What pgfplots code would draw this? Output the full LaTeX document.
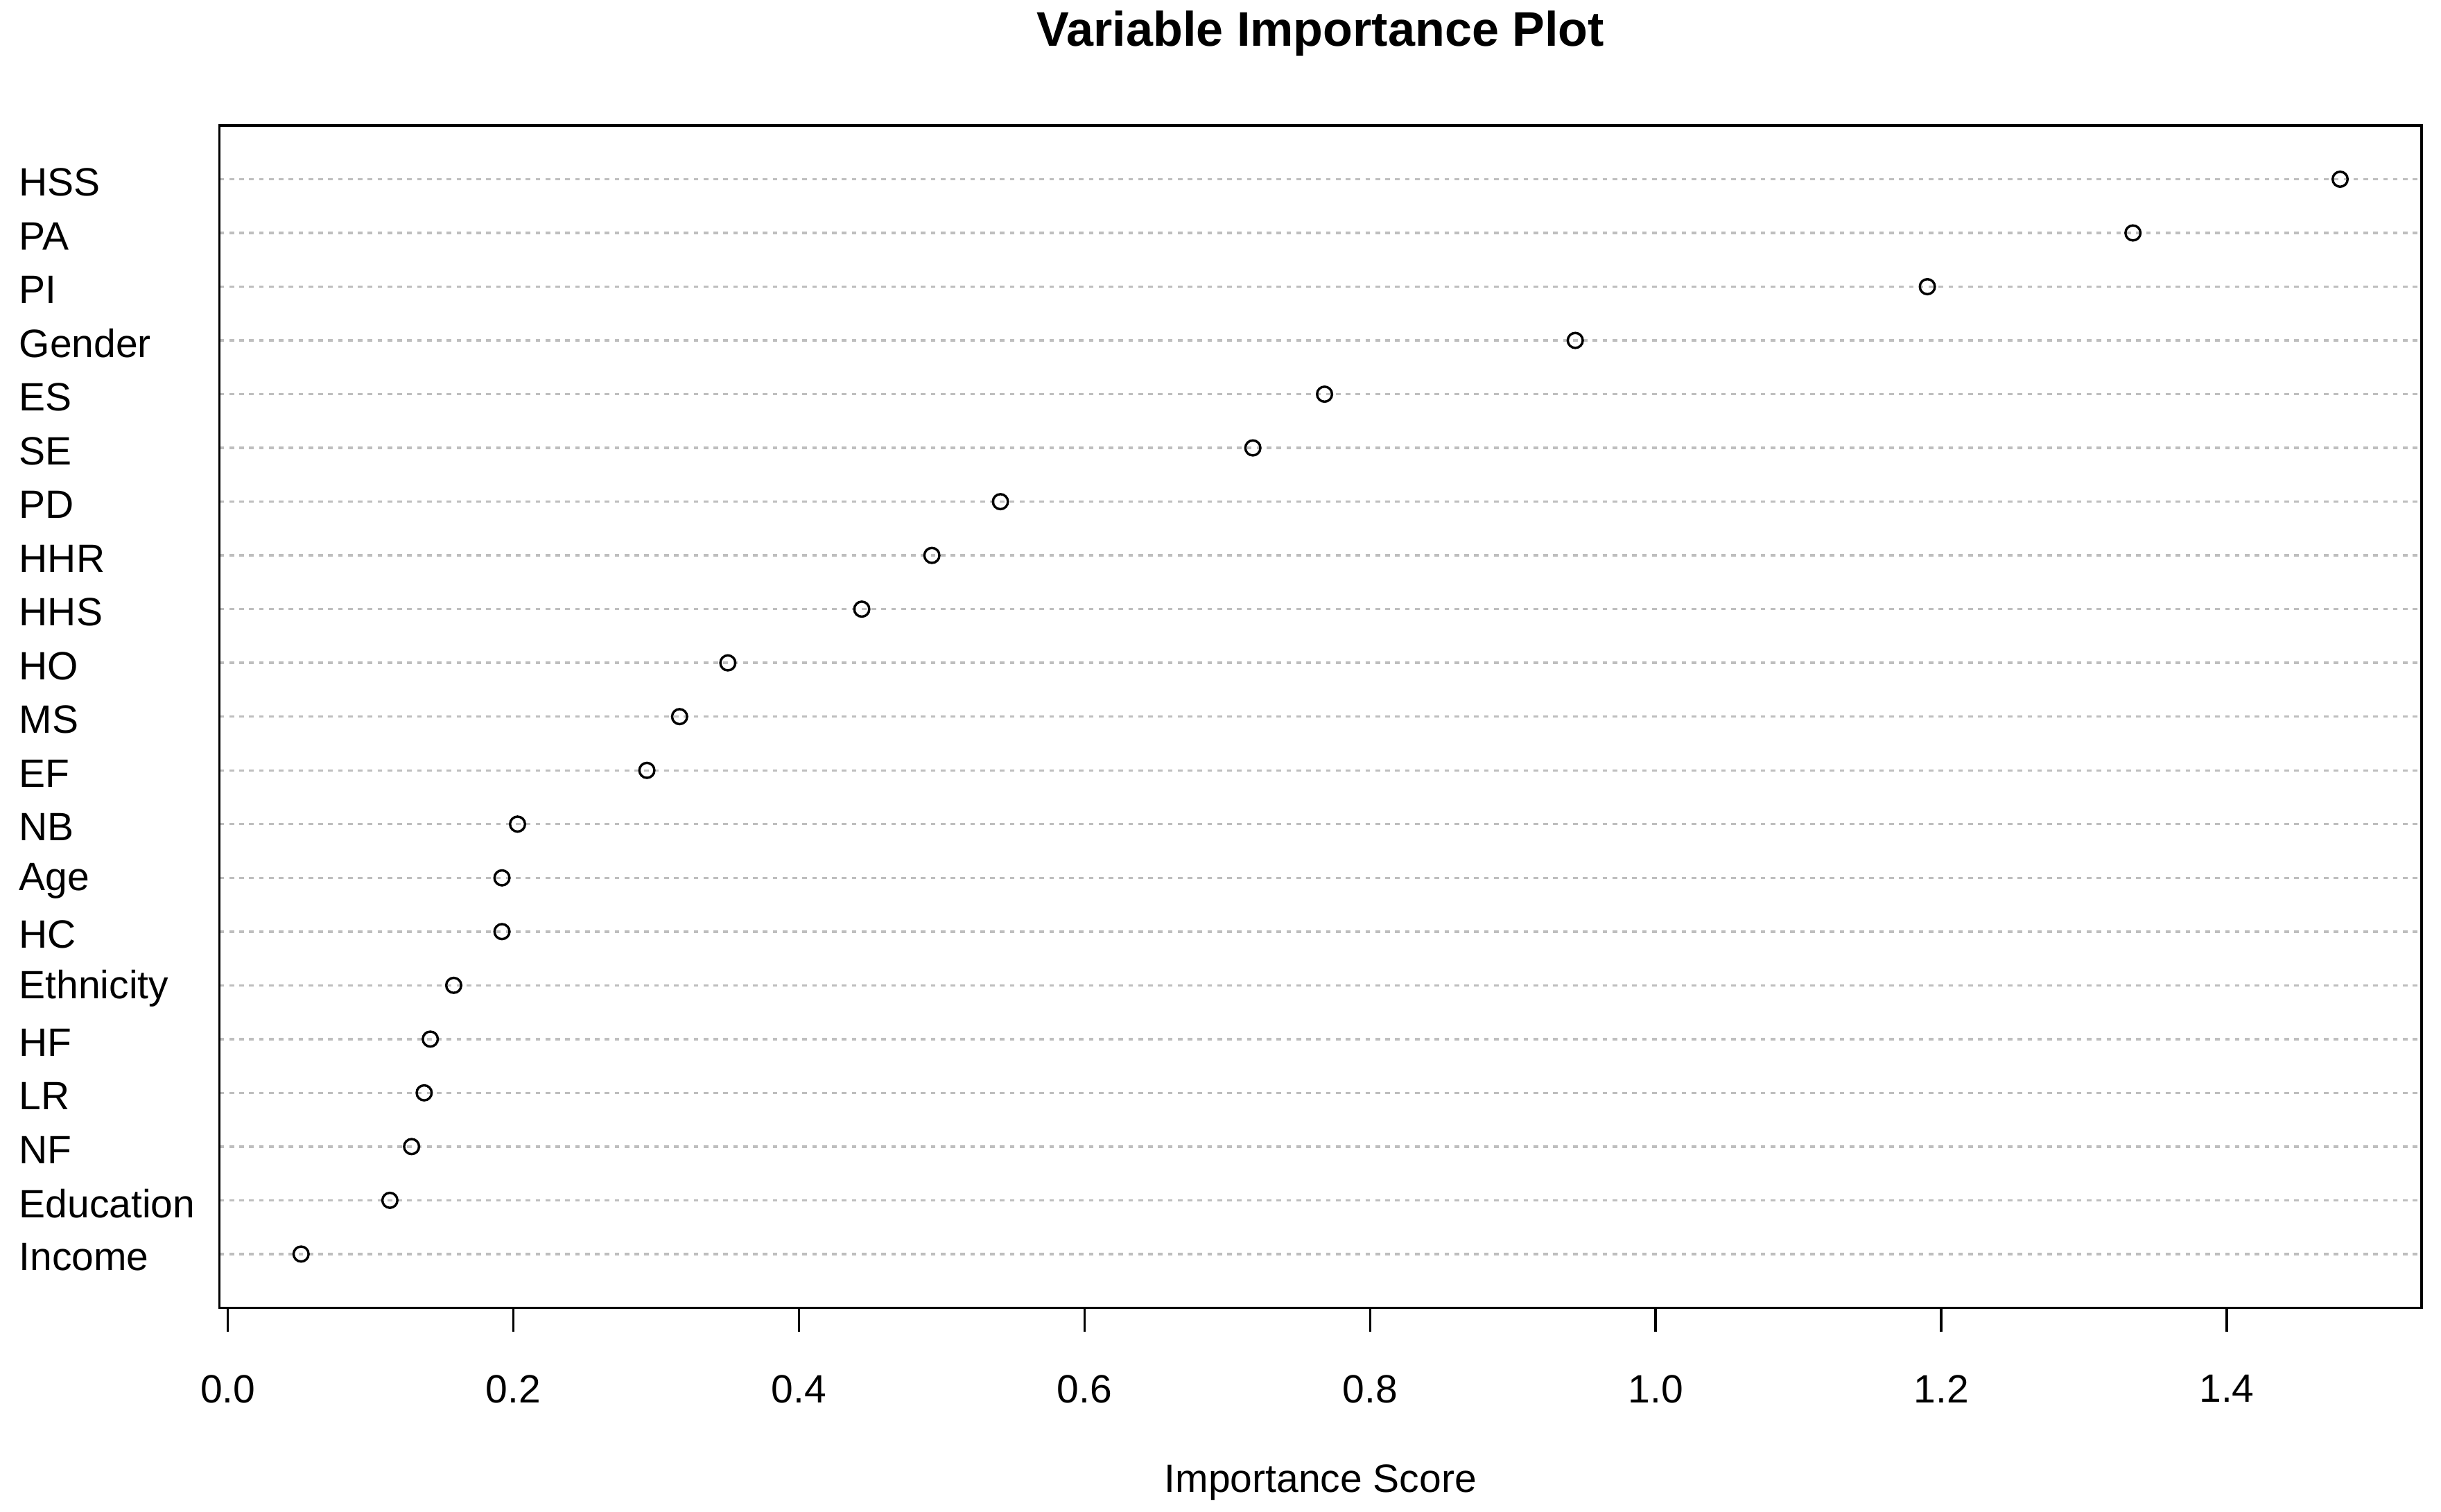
\documentclass[border=0pt]{standalone}
\usepackage{fontspec}
\setmainfont{Liberation Sans}
\usepackage{pgfplots}
\pgfplotsset{compat=1.18}
\definecolor{rgray}{HTML}{BEBEBE}

\begin{document}
\begin{tikzpicture}
\useasboundingbox (-55.56pt,-51.6pt) rectangle (562.15pt,330.95pt);
\begin{axis}[
    at={(0,0)}, anchor=south west,
    scale only axis,
    width=557.25pt, height=299.2pt,
    xmin=-0.0058, xmax=1.5365,
    ymin=0, ymax=22,
    axis line style={line width=0.6pt},
    /pgf/number format/assume math mode=true,
    % x axis: R style ticks below the box
    xtick={0,0.2,0.4,0.6,0.8,1.0,1.2,1.4},
    xticklabel={\pgfmathprintnumber[fixed,fixed zerofill,precision=1]{\tick}},
    xtick pos=bottom,
    xtick align=outside,
    major tick length=6pt,
    x tick style={line width=0.6pt, black},
    xticklabel style={yshift=-7.5pt},
    % y axis: variable names, left aligned
    ytick={1,...,21},
    yticklabels={Income,Education,NF,LR,HF,Ethnicity,HC,Age,NB,EF,MS,HO,HHS,HHR,PD,SE,ES,Gender,PI,PA,HSS},
    y tick style={draw=none},
    yticklabel style={anchor=west, inner sep=0pt, xshift=-50.9pt, yshift=-0.8pt},
    ymajorgrids,
    major grid style={rgray, line width=0.6pt, dash pattern=on 1.15pt off 1.35pt},
    title={Variable Importance Plot},
    title style={at={(0.5,1)}, anchor=base, yshift=14.1pt, font=\fontsize{12.3}{14}\selectfont\bfseries},
    xlabel={Importance Score},
    xlabel style={at={(axis description cs:0.5,0)}, anchor=center, yshift=-44.2pt},
]
\addplot[only marks, mark=o, mark size=1.9pt, mark options={line width=0.6pt, black}] coordinates {
    (0.0513,1)  % Income
    (0.1135,2)  % Education
    (0.1287,3)  % NF
    (0.1375,4)  % LR
    (0.1418,5)  % HF
    (0.1582,6)  % Ethnicity
    (0.1920,7)  % HC
    (0.1920,8)  % Age
    (0.2029,9)  % NB
    (0.2935,10) % EF
    (0.3164,11) % MS
    (0.3502,12) % HO
    (0.4440,13) % HHS
    (0.4931,14) % HHR
    (0.5411,15) % PD
    (0.7179,16) % SE
    (0.7681,17) % ES
    (0.9437,18) % Gender
    (1.1903,19) % PI
    (1.3343,20) % PA
    (1.4794,21) % HSS
};
\end{axis}
\end{tikzpicture}
\end{document}
